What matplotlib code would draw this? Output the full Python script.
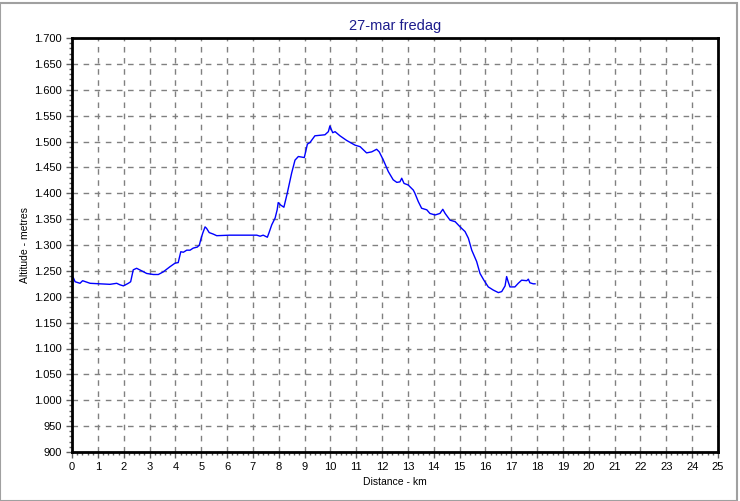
import matplotlib
matplotlib.use("Agg")
import matplotlib.pyplot as plt
from matplotlib.ticker import MultipleLocator, FuncFormatter
from matplotlib.patches import Rectangle

plt.rcParams['font.family'] = ['Liberation Sans', 'DejaVu Sans']

# distance (km) and altitude (m)
distance = [0.00, 0.05, 0.12, 0.31, 0.41, 0.70, 1.08, 1.47, 1.73, 1.86, 1.99,
            2.18, 2.27, 2.37, 2.50, 2.70, 2.89, 3.15, 3.34, 3.53, 3.79, 3.99,
            4.11, 4.21, 4.31, 4.44, 4.57, 4.69, 4.85, 4.93, 4.98, 5.06, 5.15,
            5.21, 5.31, 5.47, 5.60, 6.11, 6.50, 7.15, 7.28, 7.40, 7.56, 7.62,
            7.73, 7.86, 7.94, 7.98, 8.08, 8.20, 8.33, 8.50, 8.63, 8.76, 8.99,
            9.11, 9.21, 9.40, 9.79, 9.92, 9.98, 10.09, 10.18, 10.37, 10.63,
            10.95, 11.15, 11.40, 11.60, 11.79, 11.89, 12.05, 12.24, 12.43,
            12.57, 12.69, 12.76, 12.85, 13.01, 13.21, 13.27, 13.40, 13.53,
            13.73, 13.85, 14.05, 14.24, 14.35, 14.44, 14.63, 14.83, 15.02,
            15.21, 15.34, 15.47, 15.66, 15.79, 15.94, 16.11, 16.30, 16.50,
            16.63, 16.76, 16.82, 16.88, 16.95, 17.14, 17.27, 17.40, 17.60,
            17.66, 17.72, 17.85, 17.92]
altitude = [1240, 1237, 1229, 1226, 1231, 1226, 1225, 1224, 1226, 1223, 1221,
            1226, 1229, 1252, 1255, 1250, 1245, 1243, 1243, 1248, 1258, 1265,
            1266, 1287, 1286, 1290, 1290, 1294, 1296, 1300, 1310, 1323, 1335,
            1332, 1324, 1321, 1318, 1319, 1319, 1319, 1317, 1319, 1315, 1323,
            1339, 1352, 1368, 1382, 1377, 1373, 1400, 1439, 1464, 1471, 1469,
            1495, 1498, 1511, 1513, 1519, 1530, 1517, 1519, 1511, 1502,
            1493, 1490, 1478, 1480, 1485, 1480, 1464, 1442, 1426,
            1421, 1422, 1429, 1419, 1416, 1406, 1400, 1384, 1371,
            1368, 1361, 1358, 1361, 1369, 1361, 1348, 1345, 1335,
            1326, 1313, 1290, 1268, 1245, 1232, 1219, 1213, 1208,
            1210, 1221, 1239, 1229, 1219, 1219, 1226, 1232, 1231,
            1234, 1227, 1225, 1225]

fig = plt.figure(figsize=(7.40, 5.01), dpi=100, facecolor='white')
ax = fig.add_axes([72 / 740, 49 / 501, 646 / 740, 414 / 501])

ax.plot(distance, altitude, color='#0000ff', linewidth=1.0)

ax.set_xlim(0, 25)
ax.set_ylim(900, 1700)
ax.xaxis.set_major_locator(MultipleLocator(1))
ax.xaxis.set_minor_locator(MultipleLocator(0.2))
ax.yaxis.set_major_locator(MultipleLocator(50))
ax.yaxis.set_minor_locator(MultipleLocator(10))
ax.yaxis.set_major_formatter(FuncFormatter(lambda v, p: f"{int(v):,}".replace(',', '.')))

ax.grid(True, which='major', color='#808080', linestyle=(0, (4, 4)), linewidth=1)
ax.tick_params(which='major', length=4, width=1, labelsize=8, color='#606060')
ax.tick_params(which='minor', length=2, width=1, color='#606060')
for s in ax.spines.values():
    s.set_linewidth(2)
    s.set_color('black')

ax.set_title('27-mar fredag', color='#1c1c8c', fontsize=10.5, pad=6)
ax.set_xlabel('Distance - km', fontsize=7.5, labelpad=3)
ax.set_ylabel('Altitude - metres', fontsize=7.5, labelpad=3)

# thin grey frame round the picture
fig.patches.append(Rectangle((0, 0), 737 / 740, 498 / 501, transform=fig.transFigure,
                             fill=False, edgecolor='#a0a0a0', linewidth=1.5))

fig.savefig('out.png', dpi=100, facecolor=fig.get_facecolor())
